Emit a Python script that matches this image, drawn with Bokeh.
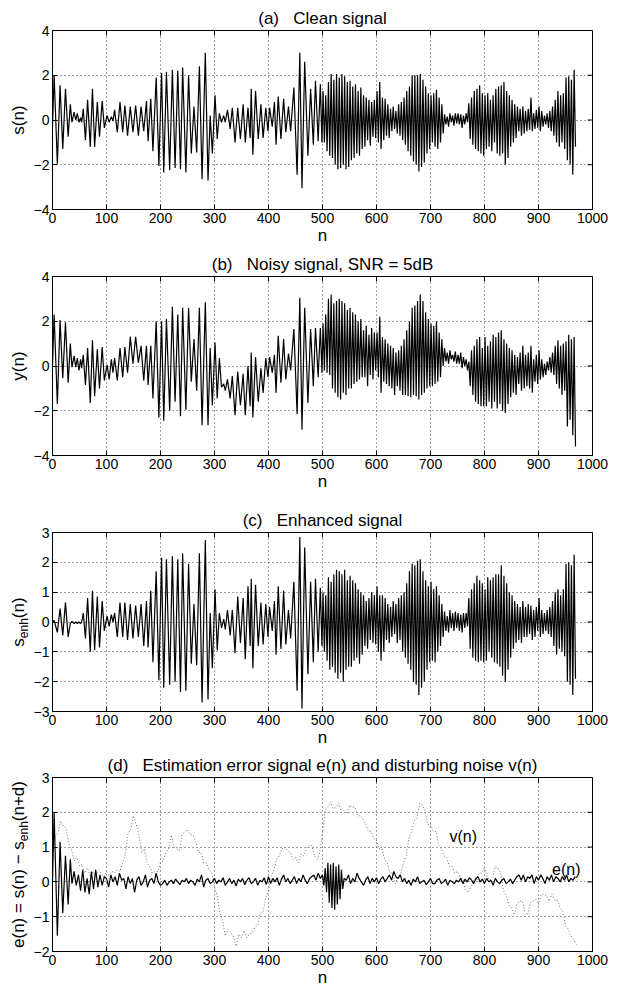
import numpy as np
from bokeh.plotting import figure
from bokeh.models import LinearAxis, Label, FixedTicker, Range1d, Grid, Title
from bokeh.layouts import column, row
from bokeh.embed import file_html
from bokeh.resources import INLINE
from bokeh.core.properties import value

FONT = "Liberation Sans"

# ---------------- data ----------------
x_ticks = [0, 100, 200, 300, 400, 500, 600, 700, 800, 900, 1000]

# turning points of the slow part (n = 0..499), shared by s(n), y(n), s_enh(n)
n_slow = [0, 3, 9, 14, 19, 24, 29, 33, 36, 40,
          43, 46, 49, 52, 54, 57, 61, 65, 70, 74,
          78, 83, 87, 92, 96, 101, 105, 109, 112, 115,
          120, 125, 130, 134, 139, 144, 149, 154, 159, 164,
          169, 174, 177, 182, 186, 192, 197, 202, 206, 211,
          217, 222, 227, 232, 237, 241, 247, 252, 257, 262,
          267, 272, 277, 283, 288, 292, 296, 301, 305, 309,
          313, 317, 320, 324, 329, 333, 338, 343, 348, 353,
          357, 362, 366, 368, 371, 376, 381, 386, 390, 395,
          399, 402, 407, 411, 414, 418, 423, 428, 432, 437,
          441, 447, 453, 458, 462, 467, 473, 478, 483, 487,
          492, 496, 499]
# turning points of the fast part (n = 501..968.5)
n_fast = list(np.arange(501, 970, 2.5))

s_slow = [-0.3, 2.0, -1.95, 1.55, -1.3, 1.4, -0.75, 0.7, -0.1, 0.35,
          0.0, 0.3, -0.1, 0.1, -0.1, 0.5, -0.9, 0.9, -1.2, 1.4,
          -1.2, 0.8, -0.75, 0.85, -0.35, 0.2, -0.1, 0.15, -0.05, 0.45,
          -0.55, 0.8, -0.55, 0.65, -0.7, 0.6, -0.55, 0.65, -0.7, 0.6,
          -0.5, 0.85, -0.95, 0.95, -1.4, 1.9, -2.05, 2.1, -2.35, 2.15,
          -2.25, 2.25, -2.15, 2.2, -2.2, 2.35, -2.35, 2.0, -1.5, 0.6,
          -1.45, 2.4, -2.65, 3.0, -2.7, 0.2, -1.5, 1.1, -0.85, 0.3,
          -0.1, 0.2, -0.1, 0.45, -0.4, 0.55, -1.0, 0.55, -0.85, 0.7,
          -1.0, 0.55, -0.8, 1.4, -1.55, 1.3, -0.85, 0.7, -0.8, 0.55,
          -0.5, 0.55, -0.3, 0.8, -1.1, 1.05, -0.85, 0.95, -0.55, 0.6,
          -0.5, 1.45, -2.45, 3.0, -3.05, 2.6, -1.6, 1.4, -1.1, 1.75,
          -0.95, 1.6, -1.0]
s_fast = [1.3, -1.0, 1.1, -1.4, 1.7, -1.6, 2.05, -1.7, 1.8, -2.0,
          2.05, -2.2, 1.9, -2.15, 2.05, -2.0, 1.95, -2.2, 1.7, -2.1,
          1.75, -1.8, 1.5, -1.7, 1.6, -1.5, 1.3, -1.6, 1.45, -1.3,
          1.1, -1.2, 1.0, -0.9, 0.9, -1.15, 0.8, -0.75, 0.9, -0.8,
          1.3, -1.0, 1.7, -1.3, 1.0, -0.9, 0.95, -0.7, 0.7, -0.8,
          0.5, -0.5, 0.6, -0.4, 0.4, -0.6, 0.7, -0.7, 0.8, -0.9,
          1.0, -1.1, 1.3, -1.4, 1.5, -1.6, 2.0, -1.85, 2.0, -2.0,
          2.0, -2.3, 2.05, -2.1, 1.8, -1.9, 1.5, -1.5, 1.2, -1.3,
          1.1, -1.0, 1.2, -1.2, 1.35, -1.3, 1.0, -1.0, 0.7, -0.6,
          0.25, -0.2, 0.15, -0.3, 0.3, -0.1, 0.2, -0.25, 0.3, -0.15,
          0.3, -0.2, 0.25, -0.35, 0.2, -0.2, 0.3, -0.1, 0.75, -0.85,
          1.0, -1.1, 1.3, -1.3, 1.4, -1.4, 1.55, -1.5, 1.2, -1.6,
          1.1, -1.3, 1.2, -1.2, 0.9, -1.4, 1.1, -1.0, 1.4, -1.5,
          1.5, -1.6, 1.55, -1.5, 1.7, -2.0, 1.3, -1.7, 1.1, -1.2,
          0.9, -1.0, 0.7, -0.8, 0.6, -0.5, 0.5, -0.7, 0.6, -0.6,
          0.4, -0.5, 0.5, -0.45, 1.0, -0.5, 0.3, -0.4, 0.45, -0.35,
          0.6, -0.5, 0.4, -0.3, 0.2, -0.2, 0.3, -0.35, 0.4, -0.5,
          0.6, -0.7, 0.9, -1.0, 1.3, -1.2, 1.1, -1.0, 1.2, -1.3,
          1.9, -1.8, 1.95, -2.0, 1.8, -2.45, 2.25, -1.2]

y_slow = [0.0, 2.3, -1.7, 2.05, -0.55, 1.95, -0.75, 1.0, -0.05, 0.45,
          -0.05, 0.35, -0.2, 0.3, -0.1, 0.5, -0.85, 0.8, -1.65, 1.15,
          -1.35, 0.75, -1.0, 0.85, -0.65, 0.05, -0.6, 0.3, -0.3, 0.35,
          -0.65, 0.8, -0.5, 0.85, -0.3, 1.3, 0.1, 1.3, 0.15, 0.9,
          -0.65, 0.9, -0.85, 0.9, -1.45, 2.0, -2.3, 2.0, -2.45, 2.1,
          -2.0, 2.65, -1.6, 2.3, -2.25, 2.6, -1.95, 2.6, -0.7, 1.2,
          -1.1, 2.6, -2.65, 2.85, -2.65, 0.8, -1.75, 1.05, -1.45, 0.35,
          -0.95, -0.8, -1.1, -0.6, -1.45, -0.45, -2.2, -0.25, -1.75, -0.35,
          -2.2, 0.0, -1.8, 0.6, -2.3, 0.4, -1.6, -0.1, -1.2, 0.35,
          -0.5, 0.4, -0.3, 0.5, -1.2, 1.35, -0.75, 1.2, -0.6, 0.55,
          -0.2, 1.65, -2.15, 3.05, -2.85, 2.6, -1.65, 1.65, -0.9, 1.7,
          -0.5, 1.7, -0.3]
y_fast = [1.9, -0.2, 2.3, -0.3, 3.0, -0.4, 3.2, -1.0, 2.8, -1.2,
          2.9, -1.4, 3.0, -1.5, 2.9, -1.2, 2.8, -1.3, 2.5, -1.0,
          2.6, -1.0, 2.4, -0.8, 2.3, -0.7, 2.0, -0.6, 2.1, -0.5,
          1.6, -0.5, 1.8, -0.9, 1.4, -0.4, 1.7, -0.6, 1.5, -0.2,
          1.5, -0.5, 2.2, -1.2, 1.3, -0.7, 1.2, -0.8, 1.0, -0.9,
          0.9, -1.0, 0.8, -1.3, 0.6, -0.9, 0.7, -1.1, 0.9, -1.3,
          1.2, -1.3, 1.6, -1.35, 2.0, -1.4, 2.6, -1.3, 2.7, -1.35,
          2.9, -1.5, 3.2, -1.3, 2.9, -1.2, 2.4, -1.0, 2.1, -0.9,
          1.9, -0.9, 1.8, -0.8, 2.0, -0.7, 1.5, -0.5, 1.2, 0.0,
          0.8, 0.2, 0.6, 0.1, 0.7, 0.3, 0.5, 0.2, 0.65, 0.1,
          0.5, 0.1, 0.6, -0.1, 0.4, 0.0, 0.3, -0.2, 0.2, -0.9,
          0.7, -1.3, 0.9, -1.6, 1.2, -1.7, 1.3, -1.8, 0.8, -1.8,
          1.3, -1.8, 0.9, -1.6, 1.1, -1.9, 1.4, -1.6, 1.3, -1.9,
          1.5, -1.7, 1.6, -2.0, 1.2, -2.1, 1.0, -1.7, 0.8, -1.4,
          0.7, -1.2, 0.5, -1.3, 0.4, -0.8, 0.6, -1.1, 0.9, -1.0,
          0.5, -0.9, 0.6, -1.0, 0.9, -1.2, 0.3, -0.7, 0.5, -0.8,
          0.7, -0.6, 0.3, -0.5, 0.1, -0.4, 0.2, -0.2, 0.4, -0.3,
          0.6, -0.4, 0.9, -0.8, 1.15, -1.0, 0.9, -1.3, 1.0, -1.1,
          1.1, -2.7, 1.4, -2.4, 1.2, -3.1, 1.3, -3.6]

c_slow = [0.0, 0.05, -0.35, 0.45, -0.45, 0.65, -0.5, -0.05, 0.02, -0.05,
          0.0, -0.05, 0.0, -0.05, 0.0, 0.3, -0.55, 0.8, -1.0, 1.05,
          -0.95, 0.85, -0.85, 0.7, -0.3, 0.2, -0.15, 0.25, 0.0, 0.3,
          -0.5, 0.65, -0.5, 0.65, -0.6, 0.6, -0.55, 0.55, -0.5, 0.6,
          -0.8, 0.7, -0.85, 1.05, -1.35, 1.7, -1.95, 2.15, -2.2, 2.1,
          -2.1, 2.2, -2.0, 2.1, -2.35, 2.3, -2.3, 1.95, -1.4, 0.6,
          -1.45, 2.3, -2.7, 2.75, -2.6, 0.3, -1.55, 1.1, -0.95, 0.3,
          -0.2, 0.1, -0.25, 0.4, -0.45, 0.4, -1.05, 0.85, -0.7, 0.8,
          -1.25, 1.2, -0.8, 1.45, -1.55, 1.25, -0.8, 0.65, -0.75, 0.6,
          -0.5, 0.5, -0.3, 0.7, -1.1, 1.2, -0.9, 1.05, -0.75, 0.4,
          -0.55, 1.35, -2.3, 2.85, -2.9, 2.5, -1.75, 1.35, -1.35, 1.45,
          -1.0, 1.15, -0.8]
c_fast = [1.0, -1.0, 0.9, -1.3, 1.5, -1.6, 1.35, -1.5, 1.6, -1.7,
          1.75, -1.9, 1.7, -1.7, 1.6, -2.0, 1.75, -1.6, 1.4, -1.5,
          1.55, -1.5, 1.4, -1.3, 1.3, -1.2, 1.1, -1.4, 1.0, -1.1,
          0.9, -0.8, 0.7, -0.9, 0.8, -0.6, 1.0, -0.7, 0.9, -0.75,
          1.2, -1.0, 0.9, -1.3, 0.9, -1.0, 0.8, -0.6, 0.6, -0.7,
          0.5, -0.5, 0.7, -0.4, 0.6, -0.7, 0.8, -0.6, 0.9, -1.0,
          1.0, -1.2, 1.3, -1.4, 1.7, -1.6, 1.95, -2.0, 1.9, -2.1,
          2.05, -2.45, 2.1, -2.2, 1.7, -2.0, 1.4, -1.6, 1.2, -1.35,
          1.35, -1.3, 1.1, -1.35, 1.2, -1.0, 0.9, -0.8, 0.6, -0.5,
          0.35, -0.3, 0.2, -0.35, 0.4, -0.2, 0.3, -0.3, 0.35, -0.2,
          0.3, -0.3, 0.25, -0.35, 0.3, -0.2, 0.3, -0.15, 0.8, -0.9,
          1.1, -1.2, 1.3, -1.3, 1.55, -1.35, 1.4, -1.3, 1.3, -1.35,
          1.1, -1.3, 1.5, -1.0, 1.4, -1.2, 1.5, -1.35, 1.6, -1.4,
          1.6, -1.5, 1.9, -1.8, 1.55, -2.0, 1.3, -1.6, 1.0, -1.2,
          0.9, -0.9, 0.7, -0.7, 0.6, -0.6, 0.5, -0.7, 0.7, -0.5,
          0.5, -0.5, 0.6, -0.4, 0.55, -0.6, 0.4, -0.5, 0.5, -0.3,
          0.8, -0.5, 0.4, -0.4, 0.3, -0.3, 0.4, -0.4, 0.5, -0.5,
          0.7, -0.8, 1.0, -1.1, 1.1, -0.9, 0.9, -1.0, 1.1, -1.15,
          1.95, -2.0, 2.0, -2.1, 1.9, -2.45, 2.25, -1.9]

# estimation error e(n)
e_n = ([0, 3, 9, 14, 19, 24, 29, 33, 36] + list(range(40, 497, 4))
       + list(np.arange(500, 541, 2.5)) + list(range(544, 969, 4)))
e_vals = [0.0, 2.0, -1.55, 1.15, -0.9, 0.75, -0.65, 0.65, -0.05,
          # 40..96
          0.3, -0.1, 0.2, -0.25, 0.35, -0.3, 0.1, -0.35, 0.3, -0.2, 0.35, -0.15, 0.2, -0.1, 0.15,
          # 100..196
          0.1, -0.15, 0.2, 0.0, 0.15, -0.1, 0.25, 0.05, 0.1, -0.2, 0.15, -0.05, 0.1, -0.3, 0.05,
          0.15, -0.1, 0.0, 0.2, -0.15, 0.05, 0.1, -0.05, 0.25, 0.0,
          # 200..296
          -0.1, -0.05, 0.05, -0.1, 0.0, 0.05, -0.05, 0.08, 0.0, -0.08, 0.05, 0.0, 0.1, -0.05, 0.05,
          0.0, -0.1, 0.08, 0.0, 0.2, -0.15, 0.05, 0.1, -0.05, 0.0,
          # 300..396
          0.1, -0.05, 0.05, 0.0, 0.12, -0.1, 0.0, 0.1, -0.05, 0.05, -0.12, 0.08, 0.0, 0.1, -0.08,
          0.05, 0.12, -0.05, 0.0, 0.1, -0.1, 0.05, 0.0, 0.12, -0.08,
          # 400..496
          0.15, -0.05, 0.1, 0.0, 0.12, -0.1, 0.08, 0.2, 0.0, 0.1, -0.05, 0.05, 0.15, -0.05, 0.1,
          0.0, 0.2, 0.05, -0.05, 0.1, 0.15, 0.2, 0.05, 0.25, 0.1,
          # 500..540
          0.2, -0.1, 0.4, -0.3, 0.55, -0.6, 0.5, -0.75, 0.55, -0.8, 0.45, -0.65, 0.5, -0.5, 0.35,
          -0.2, 0.1,
          # 544..640
          0.05, 0.2, -0.05, 0.1, 0.0, 0.25, 0.1, 0.0, -0.1, 0.05, 0.15, -0.05, 0.1, 0.0, 0.12,
          -0.05, 0.08, 0.15, 0.0, 0.1, 0.2, 0.05, 0.3, 0.15, 0.1,
          # 644..740
          0.2, 0.0, 0.1, -0.05, 0.05, -0.1, 0.08, 0.0, 0.15, -0.05, 0.0, 0.05, -0.08, 0.0, 0.1,
          -0.05, -0.05, 0.05, 0.1, -0.05, 0.0, 0.08, -0.1, 0.05, 0.0,
          # 744..840
          -0.05, 0.05, 0.0, 0.1, -0.05, 0.08, 0.0, 0.12, 0.05, -0.05, 0.1, 0.15, 0.0, 0.08, -0.05,
          0.1, 0.0, 0.05, -0.1, 0.1, 0.0, -0.05, 0.05, 0.1, -0.05,
          # 844..940
          0.0, 0.08, -0.05, 0.05, 0.15, 0.2, 0.05, 0.2, 0.0, 0.15, 0.1, 0.2, -0.05, 0.15, 0.05,
          0.2, 0.1, -0.05, 0.15, 0.05, 0.2, 0.0, 0.15, 0.1, 0.0,
          # 944..968
          0.15, 0.05, 0.2, 0.0, 0.1, 0.05, 0.15]

# disturbing noise v(n), every 5th sample
v_n = list(range(0, 971, 5))
v_vals = [0.8, 1.3, 1.4, 1.75, 1.6, 1.55, 1.1, 0.95, 0.6, 0.7,
          0.45, 0.5, 0.25, 0.4, 0.15, 0.3, 0.1, 0.35, 0.25, 0.15,
          0.3, 0.2, 0.3, 0.25, 0.35, 0.3, 0.55, 0.8, 1.4, 1.5,
          1.9, 1.65, 1.35, 0.85, 0.95, 0.55, 0.45, 0.25, 0.3, 0.3,
          0.55, 0.6, 0.85, 0.95, 1.35, 1.0, 0.95, 0.9, 1.35, 1.45,
          1.5, 1.35, 1.35, 1.15, 0.85, 0.85, 0.55, 0.55, 0.35, 0.25,
          -0.15, -0.4, -0.9, -1.1, -1.55, -1.35, -1.45, -1.55, -1.85, -1.5,
          -1.6, -1.4, -1.6, -1.5, -1.45, -1.3, -1.25, -0.9, -0.85, -0.45,
          -0.25, 0.15, 0.35, 0.65, 0.75, 0.95, 1.0, 0.9, 0.85, 0.65,
          0.7, 0.55, 0.8, 0.75, 0.95, 1.05, 1.05, 0.75, 0.65, 0.85,
          1.4, 2.05, 2.15, 2.3, 2.1, 2.15, 2.25, 2.0, 2.05, 1.95,
          2.2, 2.15, 2.15, 1.9, 1.9, 1.8, 1.65, 1.45, 1.45, 1.25,
          1.2, 0.95, 0.95, 0.65, 0.55, 0.25, 0.25, -0.05, 0.15, 0.25,
          0.55, 0.75, 1.25, 1.45, 1.75, 1.85, 2.25, 2.2, 2.05, 1.65,
          1.65, 1.45, 1.45, 1.05, 0.95, 0.75, 0.7, 0.45, 0.45, 0.25,
          0.3, 0.15, 0.05, -0.25, -0.3, -0.15, 0.05, 0.05, 0.25, 0.25,
          0.4, 0.15, 0.05, 0.15, 0.45, 0.4, 0.25, -0.25, -0.4, -0.65,
          -0.75, -0.95, -0.65, -0.55, -0.55, -0.85, -0.95, -0.6, -0.55, -0.5,
          -0.65, -0.35, -0.35, -0.4, -0.55, -0.35, -0.55, -0.5, -0.75, -0.85,
          -1.25, -1.35, -1.55, -1.65, -1.8]

# ---------------- helpers ----------------
MINUS = "\u2212"
FRAME_W = 540
TICK_PX = 5
LAB_W = 30          # width of the strip that carries the y-axis label
LAB_SIZE = 17       # px, y-label font
SUB_SIZE = 12       # px, subscript font
# Arial / Liberation Sans advance widths (em) used to chain label pieces
ADV = {"s": 0.5, "e": 0.556, "n": 0.556, "h": 0.556, "d": 0.556, "(": 0.333, ")": 0.333,
       " ": 0.278, "=": 0.584, "+": 0.584, MINUS: 0.584, "y": 0.5}


def text_len(t, size):
    return sum(ADV.get(ch, 0.556) for ch in t) * size


def tick_overrides(ticks):
    return {t: (MINUS + str(abs(t)) if t < 0 else str(t)) for t in ticks}


def style_axis(ax):
    ax.major_tick_in = TICK_PX
    ax.major_tick_out = 0
    ax.minor_tick_in = 0
    ax.minor_tick_out = 0
    ax.axis_line_color = "black"
    ax.axis_line_width = 1
    ax.major_tick_line_color = "black"
    ax.major_label_text_font = FONT
    ax.major_label_text_color = "black"
    ax.major_label_text_font_size = "14px"
    ax.major_label_standoff = 3
    ax.axis_label_text_font = FONT
    ax.axis_label_text_font_style = "normal"
    ax.axis_label_text_font_size = "17px"
    ax.axis_label_text_color = "black"


def make_panel(top, fh, bottom, ylo, yhi, yticks, title):
    p = figure(frame_width=FRAME_W, frame_height=fh,
               x_range=Range1d(0, 1000), y_range=Range1d(ylo, yhi),
               output_backend="svg", toolbar_location=None, title=None,
               x_axis_location=None, y_axis_location=None,
               min_border_left=49 - LAB_W, min_border_right=21,
               min_border_top=top, min_border_bottom=bottom)
    for r in list(p.center):
        r.visible = False
    p.outline_line_color = "black"
    p.outline_line_width = 1
    p.background_fill_color = "white"
    p.border_fill_color = "white"
    xt = FixedTicker(ticks=x_ticks)
    yt = FixedTicker(ticks=yticks)

    bx = LinearAxis(ticker=xt, axis_label="n")
    style_axis(bx)
    bx.axis_label_standoff = 0
    ly = LinearAxis(ticker=yt, major_label_overrides=tick_overrides(yticks))
    style_axis(ly)
    p.add_layout(bx, "below")
    p.add_layout(ly, "left")

    for dim, tk in ((0, xt), (1, yt)):
        g = Grid(dimension=dim, ticker=tk)
        g.grid_line_color = "#444444"
        g.grid_line_dash = "1 3"
        g.grid_line_width = 1
        p.add_layout(g)

    # inward tick marks on the top and right edges of the box
    dy = TICK_PX * (yhi - ylo) / fh
    dx = TICK_PX * 1000.0 / FRAME_W
    p.segment(x0=x_ticks, y0=[yhi] * len(x_ticks), x1=x_ticks, y1=[yhi - dy] * len(x_ticks),
              line_color="black", line_width=1)
    p.segment(x0=[1000] * len(yticks), y0=yticks, x1=[1000 - dx] * len(yticks), y1=yticks,
              line_color="black", line_width=1)

    t = Title(text=title, align="center", text_font=FONT, text_font_style="normal",
              text_font_size="17px", text_color="black", standoff=5)
    p.add_layout(t, "above")
    return p


def label_strip(top, fh, bottom, pieces):
    """Vertical y-axis label drawn in its own narrow strip whose frame lines up with the
    panel's frame; pieces = [(text, is_subscript)], each anchored at its own centre."""
    lf = figure(frame_width=LAB_W, frame_height=fh,
                x_range=Range1d(0, LAB_W), y_range=Range1d(0, fh),
                output_backend="svg", toolbar_location=None, title=None,
                min_border_left=0, min_border_right=0,
                min_border_top=top, min_border_bottom=bottom,
                x_axis_location=None, y_axis_location=None)
    for r in list(lf.center):
        r.visible = False
    lf.outline_line_color = None
    lf.background_fill_color = "white"
    lf.border_fill_color = "white"
    total = sum(text_len(t, SUB_SIZE if sub else LAB_SIZE) for t, sub in pieces)
    pos = fh / 2.0 - total / 2.0
    main_x = LAB_W - 12.5     # centre line of the normal-size letters
    for t, sub in pieces:
        size = SUB_SIZE if sub else LAB_SIZE
        ln = text_len(t, size)
        lf.text(x=[main_x + (5.5 if sub else 0.0)], y=[pos + ln / 2.0], text=[t], angle=np.pi / 2,
                text_font=value(FONT), text_font_size=value("%dpx" % size),
                text_align="center", text_baseline="middle", text_color="black")
        pos += ln
    return lf


def trace(p, xs, ys, **kw):
    m = min(len(xs), len(ys))
    p.line([float(v) for v in xs[:m]], ys[:m], **kw)


SP = "\u00a0\u00a0\u00a0"
LW = 1.2

# (a)  frame 38..217 on the page
ta, fa, ba = 30, 179, 39
pa = make_panel(ta, fa, ba, -4, 4, [-4, -2, 0, 2, 4], "(a)" + SP + "Clean signal")
trace(pa, n_slow + n_fast, s_slow + s_fast, line_color="black", line_width=LW)
la = label_strip(ta, fa, ba, [("s(n)", False)])

# (b)  frame 284..463
tb, fb, bb = 28, 179, 49
pb = make_panel(tb, fb, bb, -4, 4, [-4, -2, 0, 2, 4], "(b)" + SP + "Noisy signal, SNR = 5dB")
trace(pb, n_slow + n_fast, y_slow + y_fast, line_color="black", line_width=LW)
lb = label_strip(tb, fb, bb, [("y(n)", False)])

# (c)  frame 540..719
tc, fc, bc = 28, 179, 40
pc = make_panel(tc, fc, bc, -3, 3, [-3, -2, -1, 0, 1, 2, 3], "(c)" + SP + "Enhanced signal")
trace(pc, n_slow + n_fast, c_slow + c_fast, line_color="black", line_width=LW)
lc = label_strip(tc, fc, bc, [("s", False), ("enh", True), ("(n)", False)])

# (d)  frame 785..959
td, fd, bd = 26, 174, 40
pd_ = make_panel(td, fd, bd, -2, 3, [-2, -1, 0, 1, 2, 3],
                 "(d)" + SP + "Estimation error signal e(n) and disturbing noise v(n)")
trace(pd_, v_n, v_vals, line_color="#707070", line_width=1, line_dash="1 2")
trace(pd_, e_n, e_vals, line_color="black", line_width=1.2)
pd_.add_layout(Label(x=735, y=1.3, text="v(n)", text_font=FONT, text_font_size="16px",
                     text_color="black", text_baseline="alphabetic"))
pd_.add_layout(Label(x=925, y=0.36, text="e(n)", text_font=FONT, text_font_size="16px",
                     text_color="black", text_baseline="alphabetic"))
ld = label_strip(td, fd, bd, [("e(n) = s(n) " + MINUS + " s", False), ("enh", True), ("(n+d)", False)])

layout = column(row(la, pa), row(lb, pb), row(lc, pc), row(ld, pd_))
open("out.html", "w").write(file_html(layout, INLINE))
